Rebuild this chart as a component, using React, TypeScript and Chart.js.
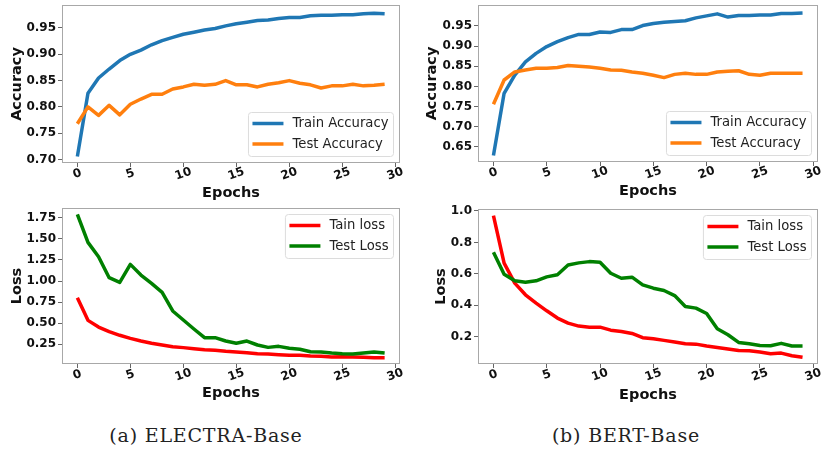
import React, { useEffect, useRef } from "react";
import { Chart, registerables } from "chart.js";

Chart.register(...registerables);

const epochs = [0, 1, 2, 3, 4, 5, 6, 7, 8, 9, 10, 11, 12, 13, 14, 15, 16, 17, 18, 19, 20, 21, 22, 23, 24, 25, 26, 27, 28, 29];
const xTicks = [0, 5, 10, 15, 20, 25, 30];

const electraTrainAcc = [0.706, 0.826, 0.855, 0.872, 0.888, 0.900, 0.908, 0.918, 0.926, 0.932, 0.938, 0.942, 0.946, 0.949, 0.954, 0.958, 0.961, 0.964, 0.965, 0.968, 0.970, 0.970, 0.973, 0.974, 0.974, 0.975, 0.975, 0.977, 0.978, 0.977];
const electraTestAcc = [0.768, 0.800, 0.784, 0.803, 0.785, 0.805, 0.815, 0.824, 0.824, 0.834, 0.838, 0.843, 0.841, 0.843, 0.850, 0.842, 0.842, 0.838, 0.843, 0.846, 0.850, 0.845, 0.842, 0.836, 0.840, 0.840, 0.843, 0.840, 0.841, 0.843];
const bertTrainAcc = [0.629, 0.783, 0.828, 0.861, 0.882, 0.899, 0.911, 0.921, 0.929, 0.929, 0.935, 0.934, 0.941, 0.941, 0.951, 0.956, 0.959, 0.961, 0.963, 0.970, 0.975, 0.980, 0.972, 0.976, 0.976, 0.977, 0.977, 0.981, 0.981, 0.982];
const bertTestAcc = [0.756, 0.816, 0.836, 0.841, 0.845, 0.845, 0.847, 0.852, 0.850, 0.848, 0.845, 0.841, 0.840, 0.836, 0.833, 0.828, 0.822, 0.830, 0.833, 0.830, 0.830, 0.836, 0.838, 0.839, 0.830, 0.828, 0.833, 0.833, 0.833, 0.833];
const electraTrainLoss = [0.803, 0.534, 0.455, 0.400, 0.357, 0.321, 0.289, 0.262, 0.242, 0.222, 0.211, 0.199, 0.187, 0.179, 0.167, 0.159, 0.151, 0.139, 0.135, 0.128, 0.120, 0.120, 0.112, 0.108, 0.100, 0.104, 0.100, 0.096, 0.092, 0.092];
const electraTestLoss = [1.79, 1.458, 1.288, 1.039, 0.984, 1.197, 1.071, 0.972, 0.866, 0.645, 0.538, 0.432, 0.329, 0.329, 0.289, 0.262, 0.289, 0.242, 0.214, 0.226, 0.203, 0.191, 0.163, 0.159, 0.147, 0.139, 0.135, 0.147, 0.159, 0.147];
const bertTrainLoss = [0.970, 0.668, 0.541, 0.467, 0.414, 0.365, 0.319, 0.287, 0.268, 0.261, 0.261, 0.242, 0.234, 0.221, 0.194, 0.187, 0.177, 0.166, 0.156, 0.153, 0.141, 0.132, 0.122, 0.113, 0.111, 0.103, 0.092, 0.096, 0.079, 0.069];
const bertTestLoss = [0.738, 0.598, 0.556, 0.547, 0.556, 0.581, 0.594, 0.657, 0.670, 0.678, 0.674, 0.604, 0.572, 0.579, 0.530, 0.509, 0.494, 0.462, 0.393, 0.382, 0.348, 0.251, 0.213, 0.164, 0.156, 0.145, 0.143, 0.158, 0.141, 0.141];

const electraAccTicks = [0.70, 0.75, 0.80, 0.85, 0.90, 0.95];
const bertAccTicks = [0.65, 0.70, 0.75, 0.80, 0.85, 0.90, 0.95];
const electraLossTicks = [0.25, 0.50, 0.75, 1.00, 1.25, 1.50, 1.75];
const bertLossTicks = [0.2, 0.4, 0.6, 0.8, 1.0];

const accLabels = ["Train Accuracy", "Test Accuracy"];
const lossLabels = ["Tain loss", "Test Loss"];
const captions = ["(a) ELECTRA-Base", "(b) BERT-Base"];

const BLUE = "#1f77b4";
const ORANGE = "#ff7f0e";
const RED = "#ff0000";
const GREEN = "#008000";
const FONT = "'DejaVu Sans', sans-serif";

type Series = { label: string; values: number[]; color: string };

type PanelProps = {
  left: number;
  top: number;
  width: number;
  height: number;
  yAxisWidth: number;
  xAxisHeight: number;
  padTop: number;
  padRight: number;
  yMin: number;
  yMax: number;
  yTicks: number[];
  decimals: number;
  yTitle: string;
  yTitlePad: number;
  xTitlePad: number;
  series: Series[];
  legendLoc: "lower right" | "upper right";
};

const decorPlugin = {
  id: "decor",
  afterDatasetsDraw(chart: any) {
    const { ctx, chartArea } = chart;
    const opts = chart.options.plugins.decor;
    ctx.save();
    // frame
    ctx.strokeStyle = "#a8a8a8";
    ctx.lineWidth = 1;
    ctx.strokeRect(
      Math.round(chartArea.left) + 0.5,
      Math.round(chartArea.top) + 0.5,
      Math.round(chartArea.right - chartArea.left) - 1,
      Math.round(chartArea.bottom - chartArea.top) - 1
    );
    // rotated x tick labels
    const xs = chart.scales.x;
    ctx.font = `bold 12px ${FONT}`;
    ctx.fillStyle = "#111";
    ctx.textAlign = "center";
    ctx.textBaseline = "middle";
    for (const v of xTicks) {
      const px = xs.getPixelForValue(v);
      ctx.save();
      ctx.translate(px, chartArea.bottom + 11);
      ctx.rotate((-20 * Math.PI) / 180);
      ctx.fillText(String(v), 0, 0);
      ctx.restore();
    }
    // legend
    const datasets = chart.data.datasets;
    ctx.font = `13.2px ${FONT}`;
    let maxW = 0;
    for (const d of datasets) maxW = Math.max(maxW, ctx.measureText(d.label).width);
    const boxW = 4 + 31 + 9 + maxW + 5;
    const boxH = 44;
    const gap = 6.5;
    const bx = chartArea.right - gap - boxW;
    const by = opts.loc === "lower right" ? chartArea.bottom - gap - boxH : chartArea.top + gap;
    ctx.beginPath();
    ctx.roundRect(bx, by, boxW, boxH, 3);
    ctx.fillStyle = "rgba(255,255,255,0.85)";
    ctx.fill();
    ctx.strokeStyle = "#dcdcdc";
    ctx.lineWidth = 1;
    ctx.stroke();
    ctx.textAlign = "left";
    ctx.textBaseline = "middle";
    datasets.forEach((d: any, i: number) => {
      const ry = by + 11 + i * 20.5;
      ctx.beginPath();
      ctx.moveTo(bx + 4, ry);
      ctx.lineTo(bx + 35, ry);
      ctx.strokeStyle = d.borderColor;
      ctx.lineWidth = 3.5;
      ctx.stroke();
      ctx.fillStyle = "#222";
      ctx.fillText(d.label, bx + 44, ry + 0.5);
    });
    ctx.restore();
  },
};

function Panel(p: PanelProps) {
  const ref = useRef<HTMLCanvasElement>(null);
  useEffect(() => {
    const canvas = ref.current;
    if (!canvas) return;
    const chart = new Chart(canvas, {
      type: "line",
      data: {
        datasets: p.series.map((s, idx) => ({
          label: s.label,
          data: epochs.map((e, i) => ({ x: e, y: s.values[i] })),
          borderColor: s.color,
          backgroundColor: s.color,
          borderWidth: 3.5,
          pointRadius: 0,
          tension: 0,
          borderJoinStyle: "round",
          order: p.series.length - idx,
        })),
      },
      options: {
        animation: false,
        responsive: false,
        maintainAspectRatio: false,
        devicePixelRatio: 1,
        events: [],
        layout: { padding: { left: 0, top: p.padTop, right: p.padRight, bottom: 0 } },
        plugins: {
          legend: { display: false },
          tooltip: { enabled: false },
          decor: { loc: p.legendLoc },
        } as any,
        scales: {
          x: {
            type: "linear",
            min: -1.45,
            max: 30.45,
            afterBuildTicks: (a: any) => {
              a.ticks = xTicks.map((v) => ({ value: v }));
            },
            afterFit: (a: any) => {
              a.height = p.xAxisHeight;
              a.paddingLeft = 0;
              a.paddingRight = 0;
            },
            ticks: { display: false },
            grid: { display: true, drawOnChartArea: false, drawTicks: true, tickLength: 4, color: "#666", lineWidth: 1 },
            border: { display: false },
            title: {
              display: true,
              text: "Epochs",
              color: "#111",
              font: { family: FONT, size: 14.5, weight: "bold" },
              padding: { top: 0, bottom: p.xTitlePad },
            },
          },
          y: {
            type: "linear",
            min: p.yMin,
            max: p.yMax,
            afterBuildTicks: (a: any) => {
              a.ticks = p.yTicks.map((v) => ({ value: v }));
            },
            afterFit: (a: any) => {
              a.width = p.yAxisWidth;
              a.paddingTop = 0;
              a.paddingBottom = 0;
            },
            ticks: {
              display: true,
              color: "#111",
              padding: 2,
              font: { family: FONT, size: 12, weight: "bold" },
              callback: (v: any) => Number(v).toFixed(p.decimals),
            },
            grid: { display: true, drawOnChartArea: false, drawTicks: true, tickLength: 4, color: "#666", lineWidth: 1 },
            border: { display: false },
            title: {
              display: true,
              text: p.yTitle,
              color: "#111",
              font: { family: FONT, size: 14.5, weight: "bold" },
              padding: { top: p.yTitlePad, bottom: 0 },
            },
          },
        },
      } as any,
      plugins: [decorPlugin],
    });
    return () => chart.destroy();
  }, []);
  return (
    <canvas
      ref={ref}
      width={p.width}
      height={p.height}
      style={{ position: "absolute", left: p.left, top: p.top, width: p.width, height: p.height }}
    />
  );
}

export default function App() {
  return (
    <div style={{ position: "fixed", left: 0, top: 0, width: 822, height: 450, background: "#fff", overflow: "hidden" }}>
      <Panel
        left={0} top={0} width={411} height={205}
        yAxisWidth={62} xAxisHeight={42} padTop={5} padRight={11}
        yMin={0.6935} yMax={0.9936} yTicks={electraAccTicks} decimals={2}
        yTitle="Accuracy" yTitlePad={8.3} xTitlePad={3.3}
        series={[
          { label: accLabels[0], values: electraTrainAcc, color: BLUE },
          { label: accLabels[1], values: electraTestAcc, color: ORANGE },
        ]}
        legendLoc="lower right"
      />
      <Panel
        left={411} top={0} width={411} height={205}
        yAxisWidth={67} xAxisHeight={43} padTop={5} padRight={4}
        yMin={0.6127} yMax={1.002} yTicks={bertAccTicks} decimals={2}
        yTitle="Accuracy" yTitlePad={13} xTitlePad={4.6}
        series={[
          { label: accLabels[0], values: bertTrainAcc, color: BLUE },
          { label: accLabels[1], values: bertTestAcc, color: ORANGE },
        ]}
        legendLoc="lower right"
      />
      <Panel
        left={0} top={205} width={411} height={200}
        yAxisWidth={62} xAxisHeight={41} padTop={3} padRight={11}
        yMin={0.017} yMax={1.865} yTicks={electraLossTicks} decimals={2}
        yTitle="Loss" yTitlePad={8.3} xTitlePad={3.3}
        series={[
          { label: lossLabels[0], values: electraTrainLoss, color: RED },
          { label: lossLabels[1], values: electraTestLoss, color: GREEN },
        ]}
        legendLoc="upper right"
      />
      <Panel
        left={411} top={205} width={411} height={200}
        yAxisWidth={67} xAxisHeight={41} padTop={4} padRight={4}
        yMin={0.0267} yMax={1.0127} yTicks={bertLossTicks} decimals={1}
        yTitle="Loss" yTitlePad={22} xTitlePad={1.3}
        series={[
          { label: lossLabels[0], values: bertTrainLoss, color: RED },
          { label: lossLabels[1], values: bertTestLoss, color: GREEN },
        ]}
        legendLoc="upper right"
      />
      <div style={{ position: "absolute", left: 56, top: 425.6, width: 300, textAlign: "center", font: "19px 'DejaVu Serif', serif", lineHeight: "19px", letterSpacing: "0.8px", color: "#222", whiteSpace: "nowrap" }}>
        {captions[0]}
      </div>
      <div style={{ position: "absolute", left: 476, top: 425.6, width: 300, textAlign: "center", font: "19px 'DejaVu Serif', serif", lineHeight: "19px", letterSpacing: "0.8px", color: "#222", whiteSpace: "nowrap" }}>
        {captions[1]}
      </div>
    </div>
  );
}
